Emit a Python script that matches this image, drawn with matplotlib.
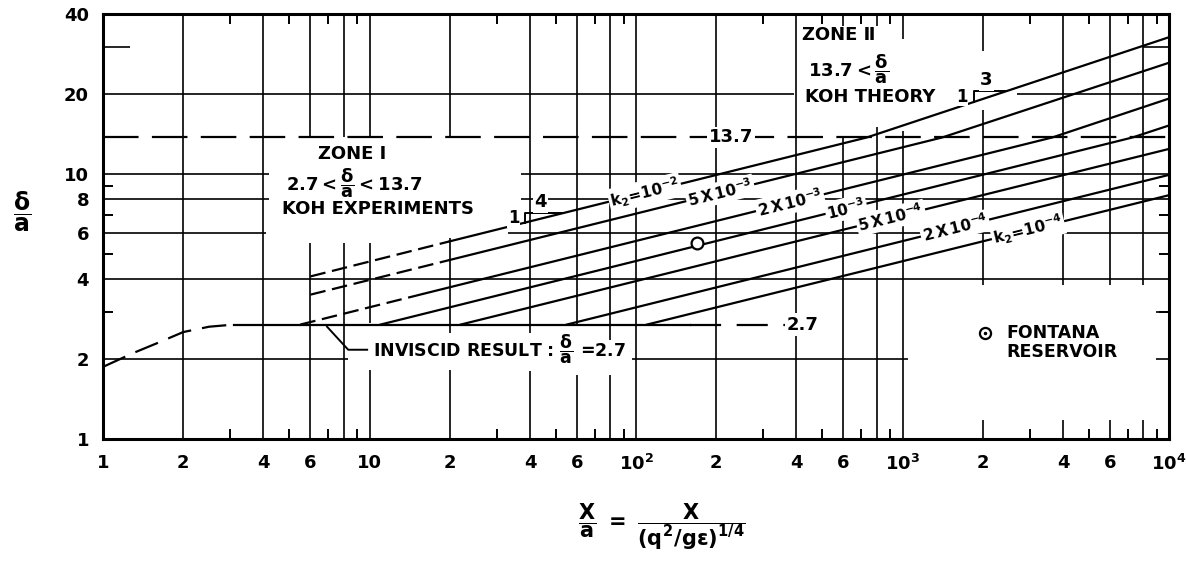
import numpy as np
import matplotlib
matplotlib.use("Agg")
import matplotlib.pyplot as plt

plt.rcParams['font.family'] = ['DejaVu Sans']
plt.rcParams['font.weight'] = 'bold'
plt.rcParams['mathtext.fontset'] = 'custom'
plt.rcParams['mathtext.rm'] = 'DejaVu Sans:bold'
plt.rcParams['mathtext.it'] = 'DejaVu Sans:bold'
plt.rcParams['mathtext.bf'] = 'DejaVu Sans:bold'
plt.rcParams['mathtext.sf'] = 'DejaVu Sans:bold'

# k2 lines, vertices (x/a , delta/a)
k2_labels = [r'$k_2\!=\!10^{-2}$', r'$5\,X\,10^{-3}$', r'$2\,X\,10^{-3}$', r'$10^{-3}$',
             r'$5\,X\,10^{-4}$', r'$2\,X\,10^{-4}$', r'$k_2\!=\!10^{-4}$']
k2_x = [[6, 20, 735, 10000],
        [6, 20, 1410, 10000],
        [5.5, 16, 3650, 10000],
        [11, 7300, 10000],
        [22, 10000],
        [55, 10000],
        [110, 10000]]
k2_y = [[4.1, 5.56, 13.7, 32.7],
        [3.5, 4.73, 13.7, 26.2],
        [2.7, 3.53, 13.7, 19.2],
        [2.7, 13.7, 15.2],
        [2.7, 12.4],
        [2.7, 9.9],
        [2.7, 8.3]]
k2_dashed_first = [True, True, True, False, False, False, False]
k2_label_x = [108, 207, 378, 614, 905, 1574, 2958]

# low curve and inviscid result
curve_x = [1, 1.3, 1.6, 2.0, 2.5, 3.1]
curve_y = [1.87, 2.11, 2.30, 2.53, 2.65, 2.7]
inviscid_solid_x = [3.1, 160]
inviscid_dash_x = [160, 400]
inviscid_y = 2.7
zone_limit_y = 13.7

# Fontana reservoir point
fontana_x = [170]
fontana_y = [5.5]

xtick_pos = [1, 2, 4, 6, 10, 20, 40, 60, 100, 200, 400, 600, 1000, 2000, 4000, 6000, 10000]
xtick_lab = ['1', '2', '4', '6', '10', '2', '4', '6', r'$10^2$', '2', '4', '6', r'$10^3$',
             '2', '4', '6', r'$10^4$']
xminor = [3, 5, 7, 9, 30, 50, 70, 90, 300, 500, 700, 900, 3000, 5000, 7000, 9000]
ytick_pos = [1, 2, 4, 6, 8, 10, 20, 40]
yminor = [3, 5, 7, 9]

# hand drawn grid pieces
vgrid = {2: [(1, 40)], 4: [(1, 40)],
         6: [(1, 5.5), (13.7, 40)], 8: [(1, 5.5), (13.7, 40)],
         10: [(1, 1.82), (2.74, 5.5), (13.7, 40)],
         20: [(1, 1.82), (2.5, 5.7), (13.7, 40)],
         40: [(1, 1.8), (2.5, 40)], 60: [(1, 1.75), (2.7, 40)],
         80: [(1, 1.75), (2.36, 40)], 100: [(1, 40)], 200: [(1, 40)], 400: [(1, 40)],
         600: [(1, 13.7), (36.2, 40)], 800: [(1, 15), (36.2, 40)],
         1000: [(1, 14.5), (32.3, 40)],
         2000: [(1, 1.18), (3.8, 17.4), (29, 40)],
         4000: [(1, 1.18), (3.8, 40)], 6000: [(1, 1.18), (3.8, 40)],
         8000: [(1, 1.18), (3.8, 40)]}
hgrid = {30: [(1, 1.26), (8000, 10000)], 20: [(1, 390), (2700, 10000)],
         10: [(1, 4.2), (37, 10000)], 8: [(1, 4.2), (37, 10000)],
         6: [(1, 4.1), (33, 10000)], 4: [(1, 10000)],
         2: [(1, 8.3), (97, 1050), (8900, 10000)], 3: [(8900, 10000)]}

W, H = 1186, 563
fig = plt.figure(figsize=(W / 100, H / 100), dpi=100)
ax = fig.add_axes([103 / W, 1 - 439 / H, 1066 / W, 425 / H])
ax.set_xscale('log')
ax.set_yscale('log')
ax.set_xlim(1, 10000)
ax.set_ylim(1, 40)

for x, segs in vgrid.items():
    for y0, y1 in segs:
        ax.vlines(x, y0, y1, color='black', lw=1.2, zorder=1)
for y, segs in hgrid.items():
    for x0, x1 in segs:
        ax.hlines(y, x0, x1, color='black', lw=1.2, zorder=1)

# zone limits
ax.plot([1, 10000], [zone_limit_y] * 2, color='black', lw=1.6, ls=(0, (16, 6)), zorder=2)
ax.plot(curve_x, curve_y, color='black', lw=1.6, ls=(0, (11, 5)), zorder=2)
ax.plot(inviscid_solid_x, [inviscid_y] * 2, color='black', lw=1.6, zorder=2)
ax.plot(inviscid_dash_x, [inviscid_y] * 2, color='black', lw=1.6, ls=(0, (14, 7)), zorder=2)


def on_line(xs, ys, x):
    return 10 ** np.interp(np.log10(x), np.log10(xs), np.log10(ys))


def angle_on(xs, ys, x):
    i = np.searchsorted(xs, x) - 1
    i = min(max(i, 0), len(xs) - 2)
    p = ax.transData.transform([(xs[i], ys[i]), (xs[i + 1], ys[i + 1])])
    return np.degrees(np.arctan2(p[1, 1] - p[0, 1], p[1, 0] - p[0, 0]))


for xs, ys, dashed, lab, lx in zip(k2_x, k2_y, k2_dashed_first, k2_labels, k2_label_x):
    if dashed:
        ax.plot(xs[:2], ys[:2], color='black', lw=1.6, ls=(0, (7, 3)), zorder=2)
        ax.plot(xs[1:], ys[1:], color='black', lw=1.6, zorder=2)
    else:
        ax.plot(xs, ys, color='black', lw=1.6, zorder=2)
    ax.text(lx, on_line(xs, ys, lx), lab, fontsize=11, rotation=angle_on(xs, ys, lx),
            rotation_mode='anchor', ha='center', va='center', zorder=4,
            bbox=dict(facecolor='white', edgecolor='none', pad=1.2))

# slope triangles on the k2 = 1e-2 line
for xa, xb, run in [(38.4, 53, '4'), (1850, 2450, '3')]:
    ya = on_line(k2_x[0], k2_y[0], xa)
    yb = on_line(k2_x[0], k2_y[0], xb)
    ax.plot([xa, xa, xb], [ya, yb, yb], color='black', lw=1.4, zorder=2)
    ax.text(xa * 0.95, np.sqrt(ya * yb), '1', fontsize=12, ha='right', va='center', zorder=4,
            bbox=dict(facecolor='white', edgecolor='none', pad=0.5))
    ax.text(np.sqrt(xa * xb) * 0.97, yb * 1.1, run, fontsize=13, ha='center', va='center',
            zorder=4, bbox=dict(facecolor='white', edgecolor='none', pad=1))

ax.plot(fontana_x, fontana_y, 'o', ms=8.5, mfc='white', mec='black', mew=1.6, zorder=3)

# line labels
ax.text(227, zone_limit_y, '13.7', fontsize=13, ha='center', va='center', zorder=4,
        bbox=dict(facecolor='white', edgecolor='none', pad=1))
ax.text(423, inviscid_y, '2.7', fontsize=13, ha='center', va='center', zorder=4,
        bbox=dict(facecolor='white', edgecolor='none', pad=1.5))
ax.plot([6.93, 8.32, 9.8], [2.65, 2.17, 2.17], color='black', lw=1.4, zorder=2)
ax.text(10.3, 2.17, r'INVISCID RESULT : $\dfrac{\delta}{a}$ =2.7', fontsize=12.5,
        ha='left', va='center', zorder=4)

ax.text(8.6, 11.9, 'ZONE Ⅰ', fontsize=13, ha='center', va='center')
ax.text(8.8, 9.25, r'$2.7 < \dfrac{\delta}{a} < 13.7$', fontsize=13, ha='center', va='center')
ax.text(10.8, 7.38, 'KOH EXPERIMENTS', fontsize=13, ha='center', va='center')
ax.text(420, 33.2, 'ZONE Ⅱ', fontsize=13, ha='left', va='center')
ax.text(442, 24.7, r'$13.7 < \dfrac{\delta}{a}$', fontsize=13, ha='left', va='center')
ax.text(431, 19.4, 'KOH THEORY', fontsize=13, ha='left', va='center')

ax.plot([2042], [2.51], 'o', ms=8, mfc='white', mec='black', mew=1.6)
ax.plot([2042], [2.51], '.', ms=3, color='black')
ax.text(2445, 2.51, 'FONTANA', fontsize=12.5, ha='left', va='center')
ax.text(2445, 2.13, 'RESERVOIR', fontsize=12.5, ha='left', va='center')

ax.set_xticks(xtick_pos)
ax.set_xticklabels(xtick_lab)
ax.set_xticks(xminor, minor=True)
ax.set_xticklabels([], minor=True)
ax.set_yticks(ytick_pos)
ax.set_yticklabels([str(v) for v in ytick_pos])
ax.set_yticks(yminor, minor=True)
ax.set_yticklabels([], minor=True)
ax.tick_params(which='major', length=0, labelsize=13, pad=11)
ax.tick_params(axis='y', which='major', pad=10)
ax.tick_params(which='minor', direction='in', length=7, width=1.4,
               top=True, bottom=True, left=True, right=True)
for s in ax.spines.values():
    s.set_linewidth(2.2)

fig.text(22 / W, 1 - 212 / H, r'$\dfrac{\delta}{a}$', fontsize=17, ha='center', va='center')
fig.text(662 / W, 1 - 527 / H, r'$\dfrac{X}{a}\ =\ \dfrac{X}{(q^2/g\epsilon)^{1/4}}$',
         fontsize=15, ha='center', va='center')

fig.savefig('out.png', dpi=100)
